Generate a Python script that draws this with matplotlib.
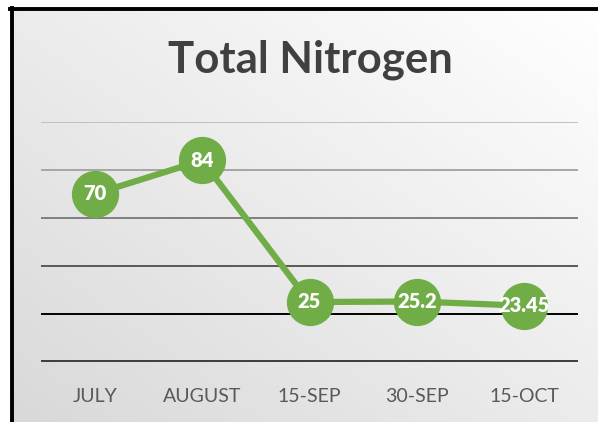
import matplotlib.pyplot as plt
import numpy as np
from matplotlib.lines import Line2D

# data
dates = ['JULY', 'AUGUST', '15-SEP', '30-SEP', '15-OCT']
nitrogen = [70, 84, 25, 25.2, 23.45]
labels = ['70', '84', '25', '25.2', '23.45']
grid_vals = [20, 40, 60, 80, 100]

green = '#70ad47'
plt.rcParams['font.family'] = ['Lato', 'DejaVu Sans']

fig = plt.figure(figsize=(5.98, 4.22), dpi=100)
W, H = 598, 422

# gradient background inside the frame (white top-right, grey bottom-left)
bg = fig.add_axes([12 / W, 0, 1 - 12 / W, 1 - 9 / H], zorder=-10)
yy, xx = np.mgrid[0:1:200j, 0:1:200j]
shade = np.clip(0.5 * (1 - xx) + 0.5 * yy, 0, 1)
g = 1.0 - 0.15 * shade
img = np.dstack([g, g, g])
bg.imshow(img, aspect='auto', extent=[0, 1, 0, 1], origin='upper')
bg.axis('off')

# frame on top and left
fig.add_artist(Line2D([10 / W, 1], [1 - 9 / H, 1 - 9 / H], color='black', lw=2.8,
                      transform=fig.transFigure))
fig.add_artist(Line2D([12 / W, 12 / W], [0, 1 - 8 / H], color='black', lw=2.8,
                      transform=fig.transFigure))

ax = fig.add_axes([41 / W, 60 / H, (578 - 41) / W, (362 - 122) / H])
ax.set_facecolor('none')
x = np.arange(len(dates))

grid_colors = ['#000000', '#595959', '#7f7f7f', '#a6a6a6', '#bfbfbf']
for v, c in zip(grid_vals, grid_colors):
    ax.axhline(v, color=c, lw=1.4, zorder=1)
ax.axhline(0, color='#404040', lw=3.6, zorder=1)

ax.plot(x, nitrogen, color=green, lw=4.5, marker='o', markersize=33,
        markerfacecolor=green, markeredgecolor=green, zorder=3, solid_capstyle='round')
for xi, yi, t in zip(x, nitrogen, labels):
    ax.text(xi, yi, t, ha='center', va='center', color='white', fontsize=14.5,
            fontweight='heavy', zorder=4)

ax.set_xlim(-0.5, len(dates) - 0.5)
ax.set_ylim(0, 100)
ax.set_xticks(x)
ax.set_xticklabels(dates, fontsize=14, color='#595959')
ax.tick_params(axis='x', length=0, pad=19)
ax.set_yticks([])
for s in ax.spines.values():
    s.set_visible(False)

fig.text(310 / W, 1 - 60 / H, 'Total Nitrogen', ha='center', va='center',
         fontsize=31.5, fontweight='bold', color='#404040')

fig.savefig('out.png', dpi=100)
